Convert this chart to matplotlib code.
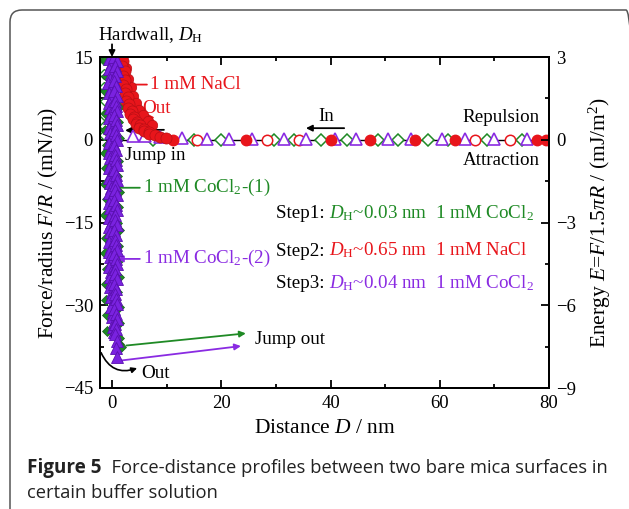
import matplotlib
matplotlib.use("Agg")
import matplotlib.pyplot as plt
import matplotlib.transforms as mtransforms
from matplotlib.patches import FancyBboxPatch
from matplotlib.ticker import MultipleLocator

plt.rcParams['font.family'] = ['Liberation Serif', 'DejaVu Serif']
plt.rcParams['mathtext.fontset'] = 'custom'
plt.rcParams['mathtext.rm'] = 'Liberation Serif'
plt.rcParams['mathtext.it'] = 'Liberation Serif:italic'
plt.rcParams['mathtext.bf'] = 'Liberation Serif:bold'

RED = '#e8151b'
GREEN = '#1f8a25'
PURPLE = '#8a2be2'
PURPLE_D = '#7a22e0'

# ---------------- data ----------------
x_ticks = [0, 20, 40, 60, 80]
y_ticks = [15, 0, -15, -30, -45]
e_ticks = [3, 0, -3, -6, -9]

# baseline (far-field) markers
base_tri_x = [3.8, 6.0, 8.7, 12.9, 17.3, 21.5, 25.6, 31.5, 35.5, 40.9, 44.7, 50.5, 54.7, 60.5, 64.7, 70.0, 76.0]
base_tri_y = [0.6, 0.6, 0.5, 0.3, 0.2, 0.2, 0.2, 0.2, 0.2, 0.2, 0.2, 0.2, 0.2, 0.2, 0.2, 0.2, 0.2]
base_redfill_x = [11.1, 24.5, 40.0, 47.3, 55.5, 62.7, 77.8, 79.5]
base_redopen_x = [15.6, 28.4, 34.2, 66.5, 72.9]
base_dia_x = [7.5, 15.0, 20.0, 29.6, 33.3, 38.2, 43.0, 48.7, 52.4, 57.8, 61.5, 68.7, 75.0]

# hard-wall cluster, CoCl2 step 3 (purple filled triangles), right column
purple_wall_x = [0.4, 0.9, 0.5, 1.0, 0.6, 0.3, 0.8, 0.4, 1.0, 0.5, 0.7, 0.9, 0.4, 0.8, 1.0,
                 0.5, 0.7, 0.9, 0.4, 0.8, 0.5, 0.7, 1.0, 0.4, 0.8, 1.0, 0.5, 0.6, 0.9, 0.4,
                 0.8, 1.0, 0.5, 0.6, 0.9, 0.4, 0.8, 0.5, 0.7, 1.0, 0.4, 0.8, 1.0, 0.5, 0.6,
                 0.9, 0.4, 0.8, 0.5, 0.7, 1.0, 0.4, 0.8, 0.9, 0.5, 0.8, 0.6, 1.0, 0.8, 1.0]
purple_wall_y = [15.0, 14.2, 13.4, 12.5, 11.6, 10.7, 9.8, 8.9, 8.0, 7.1, 6.2, 5.3, 4.4, 3.5, 2.6,
                 1.7, 0.8, -0.1, -1.0, -1.9, -2.8, -3.7, -4.6, -5.5, -6.4, -7.3, -8.2, -9.1,
                 -10.0, -10.9, -11.8, -12.7, -13.6, -14.5, -15.4, -16.3, -17.2, -18.1, -19.0,
                 -19.9, -20.8, -21.7, -22.6, -23.5, -24.4, -25.3, -26.2, -27.1, -28.0, -28.9,
                 -29.8, -30.7, -31.6, -32.5, -33.4, -34.3, -35.2, -36.4, -37.8, -39.4]
# left column
purple_wall2_x = [-0.5, -0.2, -0.6, -0.1, -0.4, -0.7, -0.2, -0.5, -0.1, -0.6, -0.3, -0.1, -0.5,
                  -0.2, -0.6, -0.3, -0.1, -0.5, -0.2, -0.6, -0.3, -0.1, -0.5, -0.2, -0.6,
                  -0.3, -0.1, -0.5, -0.2, -0.6, -0.3, -0.1, -0.5, -0.2, -0.6, -0.3, -0.1,
                  -0.5, -0.2, -0.6, -0.3, -0.1, -0.5, -0.2, -0.4, -0.1, -0.3, 0.0, -0.2,
                  0.1, -0.1, 0.2, 0.0, 0.3, 0.2, 0.4]
purple_wall2_y = [14.6, 13.8, 12.9, 12.0, 11.1, 10.2, 9.3, 8.4, 7.5, 6.6, 5.7, 4.8, 3.9, 3.0,
                  2.1, 1.2, 0.3, -0.6, -1.5, -2.4, -3.3, -4.2, -5.1, -6.0, -6.9, -7.8, -8.7,
                  -9.6, -10.5, -11.4, -12.3, -13.2, -14.1, -15.0, -15.9, -16.8, -17.7, -18.6,
                  -19.5, -20.4, -21.3, -22.2, -23.1, -24.0, -24.9, -25.8, -26.7, -27.6,
                  -28.5, -29.4, -30.3, -31.2, -32.1, -33.0, -33.9, -34.8]

# hard-wall cluster, CoCl2 step 1 (green filled diamonds)
green_wall_x = [-1.2, 1.1, -1.1, 1.2, -1.3, 1.0, 1.2, -1.1, 1.1, -1.2, 1.2, -1.0, -1.3, 1.1,
                -1.1, 1.0, -1.2, 1.2, -1.0, 1.1, -1.3, 1.0, 1.2, -1.1, 1.1, -1.2, 1.1, -1.0,
                1.2, -1.1, 1.0, -1.1, 1.3, -1.0, 1.2, -0.9, 1.3, 1.2, 1.6]
green_wall_y = [14.5, 13.0, 11.6, 10.2, 8.8, 7.4, 6.0, 4.6, 3.2, 1.8, 0.4, -1.0, -2.4, -3.8,
                -5.2, -6.6, -8.0, -9.4, -10.8, -12.2, -13.6, -15.0, -16.4, -17.8, -19.2,
                -20.6, -22.0, -23.4, -24.8, -26.2, -27.6, -29.0, -30.4, -31.8, -33.2,
                -34.6, -36.0, -37.0, -37.5]
green_open_x = [-1.5, -1.4, -1.5, -1.3, -1.5, -1.4, -1.5]
green_open_y = [14.5, 12.0, 9.5, 7.0, 4.5, 2.5, 0.8]

# NaCl step 2 repulsion (red filled circles)
red_rep_x = [1.8, 2.1, 1.9, 2.3, 2.0, 2.4, 2.1, 2.6, 2.3, 2.9, 2.6, 3.2, 2.9, 3.6, 3.3, 4.0,
             3.8, 4.6, 4.3, 5.2, 5.0, 5.9, 5.8, 6.8, 6.7, 7.8, 8.8, 9.8]
red_rep_y = [15.0, 14.2, 13.3, 12.5, 11.6, 10.8, 9.9, 9.2, 8.4, 7.7, 7.0, 6.4, 5.8, 5.2, 4.6,
             4.2, 3.7, 3.3, 2.9, 2.6, 2.2, 2.0, 1.6, 1.4, 1.0, 0.8, 0.5, 0.3]
red_out_x = [2.6, 3.0, 3.4, 3.8, 4.4, 5.0, 5.7, 6.5, 7.4]
red_out_y = [13.0, 11.0, 9.5, 8.0, 6.6, 5.4, 4.4, 3.4, 2.6]

# ---------------- figure ----------------
W, H = 629, 509
fig = plt.figure(figsize=(W / 100, H / 100), dpi=100)
ax = fig.add_axes([100 / W, 1 - 388 / H, 449 / W, 331 / H])

frame = FancyBboxPatch((0.10, -0.2), 6.28, 5.19, boxstyle="round,pad=0,rounding_size=0.12",
                       transform=fig.dpi_scale_trans, fill=False, ec='#555555', lw=1.1,
                       clip_on=False)
fig.patches.append(frame)

ax.set_xlim(-2.2, 80)
ax.set_ylim(-45, 15)

all_base = sorted(base_tri_x + base_redfill_x + base_redopen_x + base_dia_x)
ax.plot([all_base[0] - 2] + all_base, [0] * (len(all_base) + 1), color='black', lw=1.0, zorder=2)

ax.plot(base_dia_x, [0] * len(base_dia_x), 'D', ms=6.5, mfc='white', mec=GREEN, mew=1.1, ls='none', zorder=3)
ax.plot(base_redopen_x, [0] * len(base_redopen_x), 'o', ms=7.5, mfc='white', mec=RED, mew=1.1, ls='none', zorder=3)
ax.plot(base_tri_x, base_tri_y, '^', ms=8.5, mfc='white', mec=PURPLE, mew=1.2, ls='none', zorder=4)
ax.plot(base_redfill_x, [0] * len(base_redfill_x), 'o', ms=7.5, mfc=RED, mec=RED, ls='none', zorder=4)

ax.plot(green_open_x, green_open_y, 'D', ms=5, mfc='white', mec=GREEN, mew=1.0, ls='none', zorder=3)
ax.plot(green_wall_x, green_wall_y, 'D', ms=5.5, mfc=GREEN, mec='#145c18', mew=0.5, ls='none', zorder=3)
ax.plot(red_out_x, red_out_y, 'o', ms=7.5, mfc=RED, mec='#b80f14', mew=0.5, ls='none', zorder=4)
ax.plot(red_rep_x, red_rep_y, 'o', ms=8, mfc=RED, mec='#b80f14', mew=0.5, ls='none', zorder=4)
ax.plot(purple_wall2_x, purple_wall2_y, '^', ms=8.5, mfc=PURPLE_D, mec='#5a10b0', mew=0.6, ls='none', zorder=5)
ax.plot(purple_wall_x, purple_wall_y, '^', ms=8.5, mfc=PURPLE_D, mec='#5a10b0', mew=0.6, ls='none', zorder=5)

for s in ax.spines.values():
    s.set_linewidth(1.4)
ax.set_xticks(x_ticks)
ax.set_yticks(y_ticks)
ax.xaxis.set_minor_locator(MultipleLocator(10))
ax.yaxis.set_minor_locator(MultipleLocator(7.5))
ax.tick_params(which='both', direction='in', top=True, right=False, labelsize=13.5, width=1.3)
ax.tick_params(which='major', length=6, pad=5)
ax.tick_params(which='minor', length=3)

ax.set_xlabel('Distance $\\mathit{D}$ / nm', fontsize=15.5, labelpad=5)
ax.set_ylabel('Force/radius $\\mathit{F/R}$ / (mN/m)', fontsize=15.5, labelpad=3)

ax2 = ax.twinx()
ax2.set_ylim(-9, 3)
ax2.set_yticks(e_ticks)
ax2.yaxis.set_minor_locator(MultipleLocator(1.5))
ax2.tick_params(which='both', direction='in', labelsize=13.5, width=1.3)
ax2.tick_params(which='major', length=6, pad=5)
ax2.tick_params(which='minor', length=3)
ax2.set_ylabel('Energy $\\mathit{E}$=$\\mathit{F}$/1.5$\\mathit{\\pi R}$ / (mJ/m$^2$)', fontsize=15.5, labelpad=8)
for s in ax2.spines.values():
    s.set_linewidth(1.4)

# ---------------- annotations ----------------
fs = 13.7
arr = lambda c: dict(arrowstyle='-|>', color=c, lw=1.3, mutation_scale=9, shrinkA=0, shrinkB=0)

ax.text(-2.6, 18.9, 'Hardwall, $\\mathit{D}_{\\mathrm{H}}$', fontsize=fs, ha='left', va='center')
ax.annotate('', xy=(0, 15), xytext=(0, 17.3), annotation_clip=False, arrowprops=arr('black'))

ax.annotate('1 mM NaCl', xy=(1.3, 10), xytext=(6.9, 10), color=RED, fontsize=fs, ha='left', va='center',
            arrowprops=arr(RED))
ax.text(5.6, 5.6, 'Out', color=RED, fontsize=fs, ha='left', va='center')
ax.annotate('', xy=(7.8, 4.0), xytext=(5.0, 6.8),
            arrowprops=dict(arrowstyle='-|>', color=RED, lw=1.2, mutation_scale=8,
                            connectionstyle='arc3,rad=0.45', shrinkA=0, shrinkB=0))

ax.annotate('', xy=(2.4, 1.7), xytext=(9.5, 1.8), arrowprops=arr('black'))
ax.text(2.3, -2.8, 'Jump in', fontsize=fs, ha='left', va='center')

ax.text(39.3, 4.2, 'In', fontsize=fs, ha='center', va='center')
ax.annotate('', xy=(35.5, 2.1), xytext=(42.5, 2.1), arrowprops=arr('black'))

ax.text(78.3, 4.0, 'Repulsion', fontsize=fs, ha='right', va='center')
ax.text(78.3, -3.7, 'Attraction', fontsize=fs, ha='right', va='center')

ax.annotate('1 mM CoCl$_2$-(1)', xy=(-1.4, -8.7), xytext=(5.6, -8.7), color=GREEN, fontsize=fs,
            ha='left', va='center', arrowprops=arr(GREEN))
ax.annotate('1 mM CoCl$_2$-(2)', xy=(0.9, -21.6), xytext=(5.6, -21.6), color=PURPLE, fontsize=fs,
            ha='left', va='center', arrowprops=arr(PURPLE))

ax.annotate('', xy=(24.5, -35.1), xytext=(2.6, -37.3), arrowprops=arr(GREEN))
ax.annotate('', xy=(23.6, -37.4), xytext=(1.8, -40.0), arrowprops=arr(PURPLE))
ax.text(26.2, -36.2, 'Jump out', fontsize=fs, ha='left', va='center')

ax.annotate('', xy=(4.6, -41.4), xytext=(-2.0, -38.6),
            arrowprops=dict(arrowstyle='-|>', color='black', lw=1.2, mutation_scale=8,
                            connectionstyle='arc3,rad=0.45', shrinkA=0, shrinkB=0))
ax.text(5.3, -42.3, 'Out', fontsize=fs, ha='left', va='center')

steps = [('Step1: ', '$\\mathit{D}_{\\mathrm{H}}$~0.03 nm  1 mM CoCl$_2$', GREEN, -14.2),
         ('Step2: ', '$\\mathit{D}_{\\mathrm{H}}$~0.65 nm  1 mM NaCl', RED, -21.0),
         ('Step3: ', '$\\mathit{D}_{\\mathrm{H}}$~0.04 nm  1 mM CoCl$_2$', PURPLE, -26.9)]
fig.canvas.draw()
renderer = fig.canvas.get_renderer()
for lab, rest, col, yy in steps:
    t1 = ax.text(30.0, yy, lab, fontsize=fs, ha='left', va='baseline', color='black')
    w = t1.get_window_extent(renderer).width
    tr = mtransforms.offset_copy(ax.transData, fig=fig, x=w, y=0, units='dots')
    ax.text(30.0, yy, rest, fontsize=fs, ha='left', va='baseline', color=col, transform=tr)

# ---------------- caption ----------------
cap_font = ['Open Sans', 'DejaVu Sans']
c1 = fig.text(27 / W, 1 - 473 / H, 'Figure 5', fontsize=13.6, fontweight='bold', family=cap_font,
              ha='left', va='baseline', color='#222222')
w = c1.get_window_extent(renderer).width
tr = mtransforms.offset_copy(fig.transFigure, fig=fig, x=w, y=0, units='dots')
fig.text(27 / W, 1 - 473 / H, '  Force-distance profiles between two bare mica surfaces in',
         fontsize=13.2, family=cap_font, ha='left', va='baseline', color='#222222', transform=tr)
fig.text(27 / W, 1 - 498 / H, 'certain buffer solution', fontsize=13.2, family=cap_font,
         ha='left', va='baseline', color='#222222')

fig.savefig('out.png', dpi=100)
